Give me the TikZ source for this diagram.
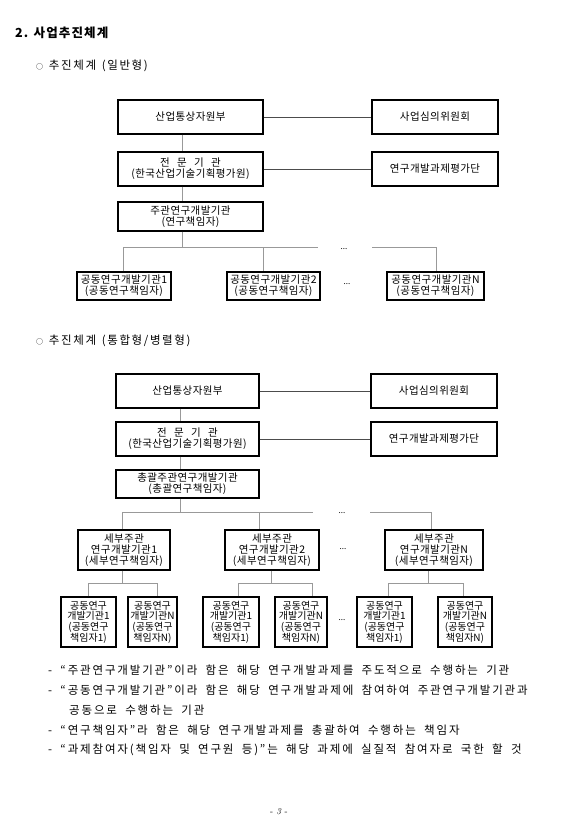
\documentclass[tikz,border=0pt]{standalone}
\usepackage{fontspec}
\newfontfamily\kr{Noto Sans CJK KR}
\newcommand\boxfont{\kr\fontsize{10.5}{10.8}\selectfont\addfontfeature{LetterSpace=4}}
\newcommand\smallboxfont{\kr\fontsize{10}{10.6}\selectfont}
\newcommand\bodyfont{\kr\fontsize{11.5}{13}\selectfont\addfontfeature{LetterSpace=16}\spaceskip=0.72em\relax}
\newcommand\headfont{\kr\fontsize{11.5}{13}\selectfont\addfontfeature{LetterSpace=14}\spaceskip=0.5em\relax}
\tikzset{
  box/.style={draw=black, line width=1.3pt, fill=white, align=center, inner sep=0pt, font=\boxfont},
  sbox/.style={box, font=\smallboxfont, minimum height=50pt},
  conn/.style={draw=black!40, line width=0.7pt},
  hconn/.style={draw=black!70, line width=0.7pt},
  dots/.style={inner sep=0pt, font=\kr\fontsize{8}{8}\selectfont},
  txt/.style={anchor=west, inner sep=0pt, font=\bodyfont},
  head/.style={anchor=west, inner sep=0pt, font=\headfont},
}
\begin{document}
\begin{tikzpicture}[x=1pt,y=-1pt]
\useasboundingbox[fill=white] (0,0) rectangle (562,831);
% headings
\node[anchor=west, inner sep=0pt, font=\kr\bfseries\fontsize{12.5}{14}\selectfont\addfontfeature{LetterSpace=9}] (h1) at (15,33) {2. 사업추진체계};
\node[head] (h2) at (36,66) {{\fontsize{7}{7}\selectfont ○} 추진체계 (일반형)};
\node[head] (h3) at (36,341) {{\fontsize{7}{7}\selectfont ○} 추진체계 (통합형/병렬형)};
% ---------- diagram 1
\node[box, minimum width=145pt, minimum height=34pt] (A1) at (190.5,117) {산업통상자원부};
\node[box, minimum width=126pt, minimum height=34pt] (R1) at (435,117) {사업심의위원회};
\node[box, minimum width=145pt, minimum height=34pt] (A2) at (190.5,169) {전\hspace{0.7em}문\hspace{0.7em}기\hspace{0.7em}관\\(한국산업기술기획평가원)};
\node[box, minimum width=126pt, minimum height=34pt] (R2) at (435,169) {연구개발과제평가단};
\node[box, minimum width=145pt, minimum height=29pt] (A3) at (190.5,216.5) {주관연구개발기관\\(연구책임자)};
\node[box, minimum width=94pt, minimum height=28pt] (B1) at (124,286) {공동연구개발기관1\\(공동연구책임자)};
\node[box, minimum width=93pt, minimum height=28pt] (B2) at (273.5,286) {공동연구개발기관2\\(공동연구책임자)};
\node[box, minimum width=97pt, minimum height=28pt] (BN) at (435.5,286) {공동연구개발기관N\\(공동연구책임자)};
\coordinate (v1) at (182,0);
\coordinate (p1a) at (123,247);
\coordinate (p1b) at (318,247);
\coordinate (p1m) at (263,247);
\coordinate (p1c) at (372,247);
\coordinate (p1d) at (436,247);
\draw[hconn] (A1) -- (R1);
\draw[hconn] (A2) -- (R2);
\draw[conn] (A1.south -| v1) -- (A2.north -| v1);
\draw[conn] (A2.south -| v1) -- (A3.north -| v1);
\draw[conn] (A3.south -| v1) -- (v1 |- p1a);
\draw[conn] (B1.north -| p1a) -- (p1a) -- (p1b);
\draw[conn] (p1m) -- (B2.north -| p1m);
\draw[conn] (p1c) -- (p1d) -- (BN.north -| p1d);
\node[dots] (d1) at (344,249) {...};
\node[dots] (d2) at (347,284) {...};
% ---------- diagram 2
\node[box, minimum width=143pt, minimum height=34pt] (C1) at (187.5,391) {산업통상자원부};
\node[box, minimum width=126pt, minimum height=34pt] (S1) at (434,391) {사업심의위원회};
\node[box, minimum width=143pt, minimum height=34pt] (C2) at (187.5,439) {전\hspace{0.7em}문\hspace{0.7em}기\hspace{0.7em}관\\(한국산업기술기획평가원)};
\node[box, minimum width=126pt, minimum height=34pt] (S2) at (434,439) {연구개발과제평가단};
\node[box, minimum width=143pt, minimum height=28pt] (C3) at (187.5,484) {총괄주관연구개발기관\\(총괄연구책임자)};
\node[box, minimum width=92pt, minimum height=40pt] (D1) at (124,550) {세부주관\\연구개발기관1\\(세부연구책임자)};
\node[box, minimum width=94pt, minimum height=40pt] (D2) at (272,550) {세부주관\\연구개발기관2\\(세부연구책임자)};
\node[box, minimum width=98pt, minimum height=40pt] (DN) at (434,550) {세부주관\\연구개발기관N\\(세부연구책임자)};
\node[sbox, minimum width=55pt] (E1) at (88.5,622) {공동연구\\개발기관1\\(공동연구\\책임자1)};
\node[sbox, minimum width=49pt] (E2) at (152.5,622) {공동연구\\개발기관N\\(공동연구\\책임자N)};
\node[sbox, minimum width=56pt] (E3) at (231,622) {공동연구\\개발기관1\\(공동연구\\책임자1)};
\node[sbox, minimum width=52pt] (E4) at (301,622) {공동연구\\개발기관N\\(공동연구\\책임자N)};
\node[sbox, minimum width=55pt] (E5) at (384.5,622) {공동연구\\개발기관1\\(공동연구\\책임자1)};
\node[sbox, minimum width=54pt] (E6) at (465,622) {공동연구\\개발기관N\\(공동연구\\책임자N)};
\coordinate (v2) at (180,0);
\coordinate (q1a) at (122,512);
\coordinate (q1b) at (313,512);
\coordinate (q1m) at (259,512);
\coordinate (q1c) at (370,512);
\coordinate (q1d) at (431,512);
\draw[hconn] (C1) -- (S1);
\draw[hconn] (C2) -- (S2);
\draw[conn] (C1.south -| v2) -- (C2.north -| v2);
\draw[conn] (C2.south -| v2) -- (C3.north -| v2);
\draw[conn] (C3.south -| v2) -- (v2 |- q1a);
\draw[conn] (D1.north -| q1a) -- (q1a) -- (q1b);
\draw[conn] (q1m) -- (D2.north -| q1m);
\draw[conn] (q1c) -- (q1d) -- (DN.north -| q1d);
% sub buses
\coordinate (g1v) at (122,583);
\coordinate (g1a) at (88,583);
\coordinate (g1b) at (157,583);
\coordinate (g2v) at (271,583);
\coordinate (g2a) at (238,583);
\coordinate (g2b) at (312,583);
\coordinate (g3v) at (428,583);
\coordinate (g3a) at (388,583);
\coordinate (g3b) at (463,583);
\draw[conn] (D1.south -| g1v) -- (g1v);
\draw[conn] (E1.north -| g1a) -- (g1a) -- (g1b) -- (E2.north -| g1b);
\draw[conn] (D2.south -| g2v) -- (g2v);
\draw[conn] (E3.north -| g2a) -- (g2a) -- (g2b) -- (E4.north -| g2b);
\draw[conn] (DN.south -| g3v) -- (g3v);
\draw[conn] (E5.north -| g3a) -- (g3a) -- (g3b) -- (E6.north -| g3b);
\node[dots] (d3) at (342,513) {...};
\node[dots] (d4) at (343,549) {...};
\node[dots] (d5) at (342,620) {...};
% ---------- notes
\node[txt] (t1) at (48,670) {- “주관연구개발기관”이라 함은 해당 연구개발과제를 주도적으로 수행하는 기관};
\node[txt] (t2) at (48,690) {- “공동연구개발기관”이라 함은 해당 연구개발과제에 참여하여 주관연구개발기관과};
\node[txt] (t3) at (69,710) {공동으로 수행하는 기관};
\node[txt] (t4) at (48,730) {- “연구책임자”라 함은 해당 연구개발과제를 총괄하여 수행하는 책임자};
\node[txt] (t5) at (48,750) {- “과제참여자(책임자 및 연구원 등)”는 해당 과제에 실질적 참여자로 국한 할 것};
\node[inner sep=0pt, font=\fontsize{9}{9}\selectfont] (pg) at (279,812) {- \textit{3} -};
\end{tikzpicture}
\end{document}
